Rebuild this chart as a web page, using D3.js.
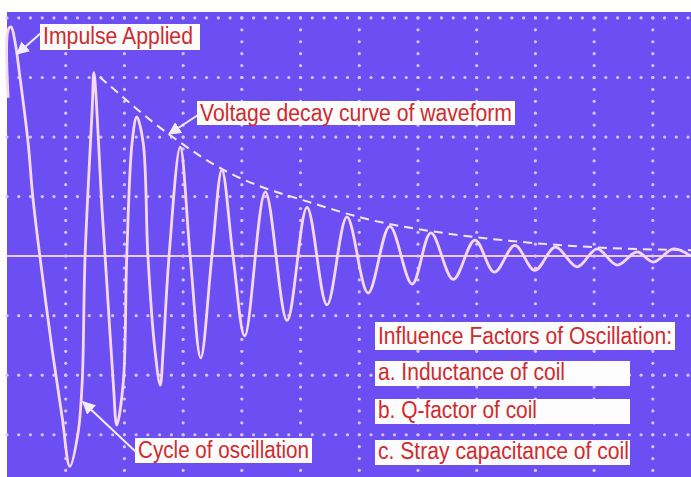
<!DOCTYPE html>
<html>
<head>
<meta charset="utf-8">
<script src="https://cdn.jsdelivr.net/npm/d3@7"></script>
<style>
  body { margin: 0; background: #fff; }
  svg { display: block; }
  .label-text { font-family: "Liberation Sans", Arial, sans-serif; font-size: 21px; fill: #d02a2c; }
</style>
</head>
<body>
<div id="chart"></div>
<script>
// time in screen divisions, voltage in divisions from the centre line
const waveTime = [ 0.02, 0.02, 0.07, 0.14, 0.22, 0.36, 0.44, 0.56, 0.77, 0.94, 1.07, 1.21, 1.28, 1.33, 1.45, 1.48,
    1.62, 1.70, 1.81, 1.87, 1.98, 2.04, 2.13, 2.21, 2.32, 2.40, 2.52, 2.61, 2.66, 2.76, 2.95, 3.12, 3.30, 3.49,
    3.66, 3.85, 4.05, 4.40, 4.77, 5.11, 5.45, 5.79, 6.15, 6.52, 6.90, 7.22, 7.60, 7.97, 8.30, 8.65, 8.99, 9.34,
    9.71, 10.05, 10.39, 10.73, 11.01, 11.35, 11.65 ];
const waveVolt = [ 2.66, 3.80, 3.85, 3.58, 3.01, 1.90, 0.99, 0, -1.58, -2.71, -3.53, -2.97, -2.13, 0, 2.45, 3.08,
    0.77, -0.45, -2.13, -2.84, -2.13, 0, 1.90, 2.34, 1.90, 0, -1.58, -2.17, -1.58, 0, 1.83, 0, -1.71, 0,
    1.45, 0, -1.34, 1.08, -1.08, 0.82, -0.82, 0.66, -0.62, 0.50, -0.47, 0.39, -0.39, 0.27, -0.27, 0.18, -0.24, 0.15,
    -0.18, 0.12, -0.15, 0.07, -0.10, 0.12, 0 ];

const decayTime = [ 1.58, 2.78, 3.80, 4.40, 5.04, 6.06, 7.72, 8.74, 9.98, 11.65 ];
const decayVolt = [ 3.01, 2.03, 1.39, 1.14, 0.94, 0.64, 0.35, 0.24, 0.15, 0.10 ];

const gridTimes = [ 1, 2, 3, 4, 5, 6, 7, 8, 9, 10, 11 ];
const gridVolts = [ 4, 3, 2, 1, -1, -2, -3 ];

const factorTitle = "Influence Factors of Oscillation:";
const factorItems = [ "a. Inductance of coil", "b. Q-factor of coil", "c. Stray capacitance of coil" ];

const width = 691, height = 477;
const screenLeft = 7, screenTop = 12;

const svg = d3.select( "#chart" ).append( "svg" )
    .attr( "width", width )
    .attr( "height", height );

const x = d3.scaleLinear().domain( [ 0, 11.65 ] ).range( [ screenLeft, width ] );
const y = d3.scaleLinear().domain( [ -3.71, 4.10 ] ).range( [ height, screenTop ] );

svg.append( "defs" ).append( "marker" )
    .attr( "id", "head" )
    .attr( "viewBox", "0 0 10 10" )
    .attr( "refX", 9 ).attr( "refY", 5 )
    .attr( "markerWidth", 6.5 ).attr( "markerHeight", 6.5 )
    .attr( "orient", "auto" )
    .append( "path" )
    .attr( "d", "M0,0 L10,5 L0,10 z" )
    .attr( "fill", "#f4ecf8" );

// screen
svg.append( "rect" )
    .attr( "x", screenLeft ).attr( "y", screenTop )
    .attr( "width", width - screenLeft ).attr( "height", height - screenTop )
    .attr( "fill", "#6b4ff2" );

// dotted graticule
const dotColor = "#d8c4f6";
const grid = svg.append( "g" );

gridVolts.forEach( v => {
    grid.selectAll( null )
        .data( d3.range( 0, 11.7, 0.2 ) )
        .enter()
        .append( "circle" )
        .attr( "cx", d => x( d ) )
        .attr( "cy", y( v ) )
        .attr( "r", 1.6 )
        .attr( "fill", dotColor );
} );

gridTimes.forEach( t => {
    grid.selectAll( null )
        .data( d3.range( -3.6, 4.1, 0.2 ) )
        .enter()
        .append( "circle" )
        .attr( "cx", x( t ) )
        .attr( "cy", d => y( d ) )
        .attr( "r", 1.6 )
        .attr( "fill", dotColor );
} );

// centre line
svg.append( "line" )
    .attr( "x1", screenLeft ).attr( "x2", width )
    .attr( "y1", y( 0 ) ).attr( "y2", y( 0 ) )
    .attr( "stroke", "#f0cbe9" )
    .attr( "stroke-width", 2 );

// decay envelope
const decayLine = d3.line()
    .x( ( d, i ) => x( decayTime[ i ] ) )
    .y( d => y( d ) )
    .curve( d3.curveMonotoneX );

svg.append( "path" )
    .attr( "d", decayLine( decayVolt ) )
    .attr( "fill", "none" )
    .attr( "stroke", "#f4e8f7" )
    .attr( "stroke-width", 2 )
    .attr( "stroke-dasharray", "9,6" );

// waveform
const waveLine = d3.line()
    .x( ( d, i ) => x( waveTime[ i ] ) )
    .y( d => y( d ) )
    .curve( d3.curveCatmullRom.alpha( 0.5 ) );

svg.append( "path" )
    .attr( "d", waveLine( waveVolt ) )
    .attr( "fill", "none" )
    .attr( "stroke", "#f6d8f2" )
    .attr( "stroke-width", 2.8 )
    .attr( "stroke-linejoin", "round" );

// labels
const label = ( text, bx, by, bw, bh, baseline, textWidth ) => {
    const g = svg.append( "g" );
    g.append( "rect" )
        .attr( "x", bx ).attr( "y", by )
        .attr( "width", bw ).attr( "height", bh )
        .attr( "fill", "#fdfcfd" );
    g.append( "text" )
        .attr( "class", "label-text" )
        .attr( "transform", `translate(${ bx + 3 },${ baseline }) scale(1,1.1)` )
        .attr( "textLength", textWidth )
        .attr( "lengthAdjust", "spacingAndGlyphs" )
        .text( text );
};

const arrow = ( x1, y1, x2, y2 ) => {
    svg.append( "line" )
        .attr( "x1", x1 ).attr( "y1", y1 )
        .attr( "x2", x2 ).attr( "y2", y2 )
        .attr( "stroke", "#f4ecf8" )
        .attr( "stroke-width", 2 )
        .attr( "marker-end", "url(#head)" );
};

label( "Impulse Applied", 40, 24, 160, 26, 44, 150 );
arrow( 41, 33, 17, 54 );

label( "Voltage decay curve of waveform", 197, 101, 318, 24, 121, 312 );
arrow( 198, 115, 169, 134 );

label( "Cycle of oscillation", 135, 438, 177, 25, 458, 171 );
arrow( 136, 452, 83, 402 );

label( factorTitle, 375, 322, 300, 28, 344, 294 );

const itemTops = [ 361, 399, 440 ];
const itemWidths = [ 187, 159, 251 ];
factorItems.forEach( ( item, i ) => {
    label( item, 375, itemTops[ i ], 255, 25, itemTops[ i ] + 19, itemWidths[ i ] );
} );
</script>
</body>
</html>
